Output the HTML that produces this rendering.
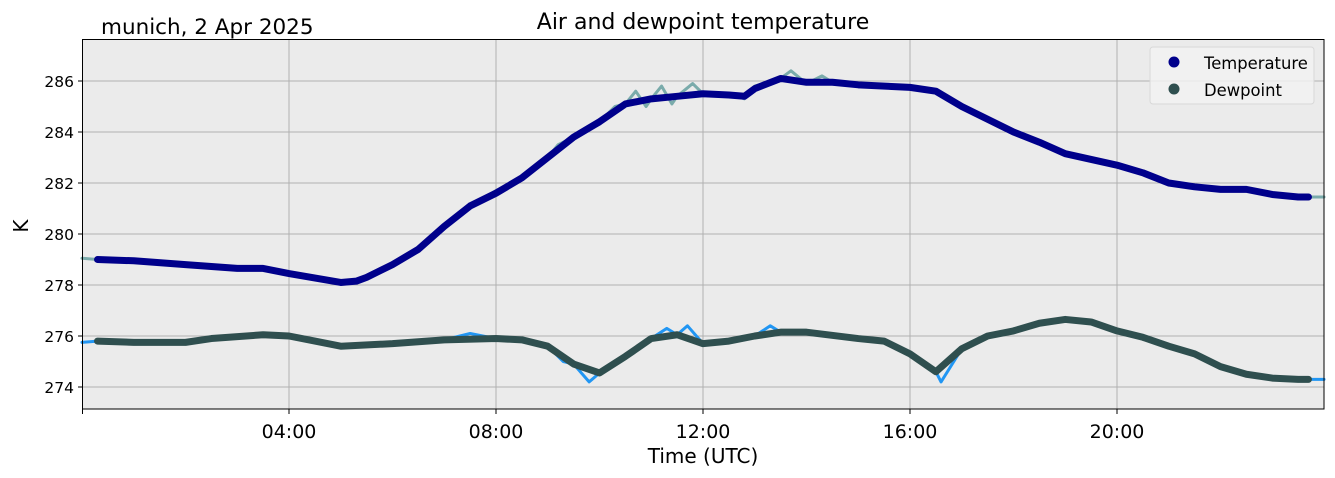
<!DOCTYPE html><html><head><style>body{margin:0;background:#fff}svg{display:block;font-family:"DejaVu Sans","Liberation Sans",sans-serif}</style></head><body>
<svg width="1335" height="478" viewBox="0 0 1335 478">
<rect x="82.5" y="39.5" width="1241.5" height="369.5" fill="#ebebeb"/>
<g stroke="#b0b0b0" stroke-width="1">
<line x1="289" y1="39.5" x2="289" y2="409"/><line x1="496" y1="39.5" x2="496" y2="409"/><line x1="703" y1="39.5" x2="703" y2="409"/><line x1="910" y1="39.5" x2="910" y2="409"/><line x1="1117" y1="39.5" x2="1117" y2="409"/>
<line x1="82.5" y1="81" x2="1324" y2="81"/><line x1="82.5" y1="132" x2="1324" y2="132"/><line x1="82.5" y1="183" x2="1324" y2="183"/><line x1="82.5" y1="234" x2="1324" y2="234"/><line x1="82.5" y1="285" x2="1324" y2="285"/><line x1="82.5" y1="336" x2="1324" y2="336"/><line x1="82.5" y1="387" x2="1324" y2="387"/>
</g>
<g transform="matrix(51.75,0,0,-25.5,82,7374)" fill="none" stroke-linejoin="round" stroke-linecap="round">
<polyline vector-effect="non-scaling-stroke" stroke="#7aabab" stroke-width="3" points="0,279.05 0.3,279.0 2,278.75 3,278.65 3.5,278.65 4,278.45 5,278.1 5.5,278.3 6,278.8 6.5,279.4 7,280.3 7.5,281.1 8,281.7 8.5,282.2 9,283.0 9.2,283.5 9.5,283.8 10,284.4 10.3,285.0 10.5,285.1 10.7,285.6 10.9,285.0 11,285.3 11.2,285.8 11.4,285.1 11.5,285.4 11.8,285.9 12,285.5 12.5,285.5 12.8,285.3 13,285.8 13.5,286.1 13.7,286.4 14,285.9 14.3,286.2 14.5,285.95 15,285.85 16,285.75 16.5,285.6 17,285.0 17.5,284.5 18,284.0 18.5,283.6 19,283.15 20,282.7 20.5,282.4 21,282.0 21.5,281.85 22,281.75 22.5,281.75 23,281.55 23.5,281.45 24,281.45"/>
<polyline vector-effect="non-scaling-stroke" stroke="#2196f3" stroke-width="3" points="0,275.75 0.3,275.8 1,275.75 2,275.75 2.5,275.9 3.5,276.05 4,276.0 4.5,275.8 5,275.6 6,275.7 7,275.85 7.5,276.1 8,275.9 8.5,275.85 9,275.6 9.3,275.0 9.5,274.9 9.8,274.2 10,274.55 10.5,275.2 11,275.9 11.3,276.3 11.5,276.05 11.7,276.4 12,275.7 12.5,275.8 13,276.0 13.3,276.4 13.5,276.15 14,276.15 15,275.9 15.5,275.8 16,275.3 16.5,274.6 16.6,274.2 17,275.5 17.5,276.0 18,276.2 18.5,276.5 19,276.65 19.5,276.55 20,276.2 20.5,275.95 21,275.6 21.5,275.3 22,274.8 22.5,274.5 23,274.35 23.5,274.3 24,274.3"/>
<polyline vector-effect="non-scaling-stroke" stroke="#00008b" stroke-width="7" points="0.3,279.0 1,278.95 2,278.8 3,278.65 3.5,278.65 4,278.45 5,278.1 5.3,278.15 5.5,278.3 6,278.8 6.5,279.4 7,280.3 7.5,281.1 8,281.6 8.5,282.2 9,283.0 9.5,283.8 10,284.4 10.5,285.1 11,285.3 11.5,285.4 12,285.5 12.5,285.45 12.8,285.4 13,285.7 13.5,286.1 14,285.95 14.5,285.95 15,285.85 16,285.75 16.5,285.6 17,285.0 17.5,284.5 18,284.0 18.5,283.6 19,283.15 20,282.7 20.5,282.4 21,282.0 21.5,281.85 22,281.75 22.5,281.75 23,281.55 23.5,281.45 23.7,281.45"/>
<polyline vector-effect="non-scaling-stroke" stroke="#2f4f4f" stroke-width="7" points="0.3,275.8 1,275.75 2,275.75 2.5,275.9 3.5,276.05 4,276.0 4.5,275.8 5,275.6 6,275.7 7,275.85 8,275.9 8.5,275.85 9,275.6 9.5,274.9 10,274.55 10.5,275.2 11,275.9 11.5,276.05 12,275.7 12.5,275.8 13,276.0 13.5,276.15 14,276.15 15,275.9 15.5,275.8 16,275.3 16.5,274.6 17,275.5 17.5,276.0 18,276.2 18.5,276.5 19,276.65 19.5,276.55 20,276.2 20.5,275.95 21,275.6 21.5,275.3 22,274.8 22.5,274.5 23,274.35 23.5,274.3 23.7,274.3"/>
</g>
<rect x="82.5" y="39.5" width="1241.5" height="369.5" fill="none" stroke="#000" stroke-width="1"/>
<g stroke="#000"><line x1="78" y1="81" x2="82" y2="81"/><line x1="78" y1="132" x2="82" y2="132"/><line x1="78" y1="183" x2="82" y2="183"/><line x1="78" y1="234" x2="82" y2="234"/><line x1="78" y1="285" x2="82" y2="285"/><line x1="78" y1="336" x2="82" y2="336"/><line x1="78" y1="387" x2="82" y2="387"/>
<line x1="82.5" y1="409" x2="82.5" y2="414"/><line x1="289" y1="409" x2="289" y2="414"/><line x1="496" y1="409" x2="496" y2="414"/><line x1="703" y1="409" x2="703" y2="414"/><line x1="910" y1="409" x2="910" y2="414"/><line x1="1117" y1="409" x2="1117" y2="414"/></g>
<g font-size="15.5" text-anchor="end"><text x="74" y="87">286</text><text x="74" y="138">284</text><text x="74" y="189">282</text><text x="74" y="240">280</text><text x="74" y="291">278</text><text x="74" y="342">276</text><text x="74" y="393">274</text></g>
<g font-size="19" text-anchor="middle"><text x="289" y="438">04:00</text><text x="496" y="438">08:00</text><text x="703" y="438">12:00</text><text x="910" y="438">16:00</text><text x="1117" y="438">20:00</text>
<text x="703" y="463" font-size="20">Time (UTC)</text><text x="703" y="29" font-size="22">Air and dewpoint temperature</text></g>
<text x="101" y="34" font-size="21.5">munich, 2 Apr 2025</text>
<text x="28" y="226" font-size="20" text-anchor="middle" transform="rotate(-90 28 226)">K</text>
<rect x="1150" y="47" width="164" height="57" rx="3" fill="#f2f2f2" fill-opacity="0.85" stroke="#d8d8d8"/>
<circle cx="1174" cy="62" r="5.5" fill="#00008b"/><circle cx="1174" cy="89" r="5.5" fill="#2f4f4f"/>
<text x="1204" y="69" font-size="16.4">Temperature</text><text x="1204" y="96" font-size="16.4">Dewpoint</text>
</svg></body></html>
